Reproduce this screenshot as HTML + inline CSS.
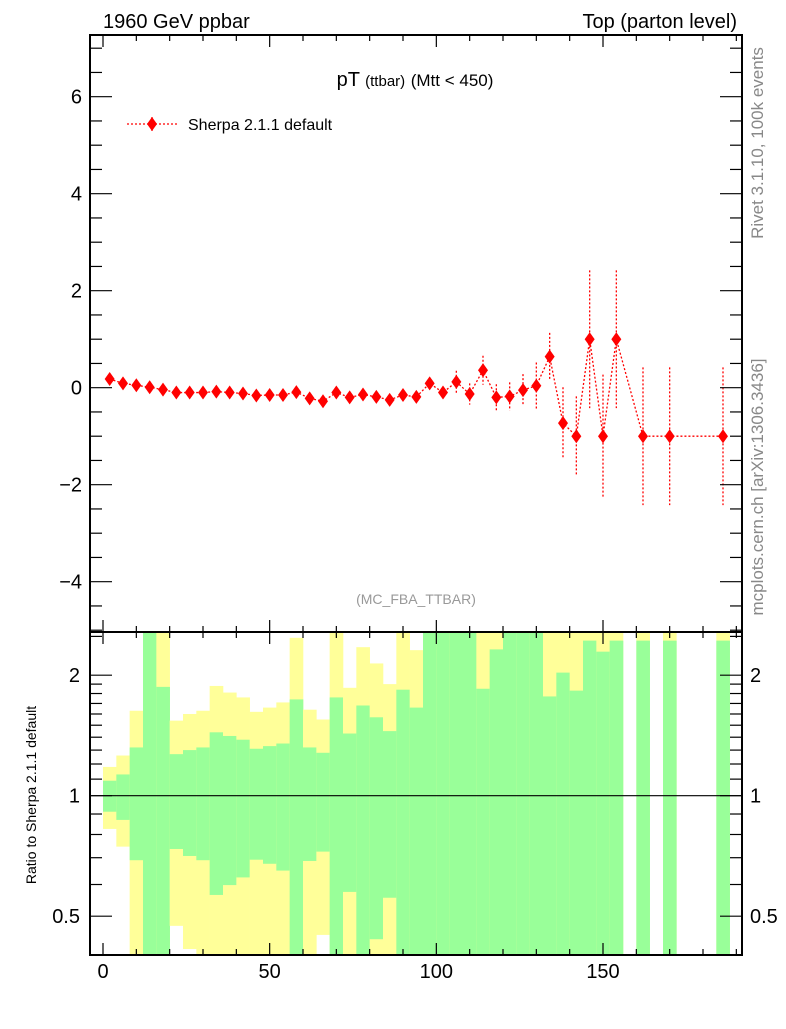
<!DOCTYPE html>
<html><head><meta charset="utf-8"><style>
body{margin:0;background:#fff;}
svg text{font-family:"Liberation Sans",sans-serif;}
</style></head><body>
<svg id="c" width="786" height="1024" xmlns="http://www.w3.org/2000/svg">
<g id="bands"></g>
<g id="main"></g>
<g id="axes"></g>
<text x="103" y="28" font-size="20">1960 GeV ppbar</text>
<text x="737" y="28" font-size="20" text-anchor="end">Top (parton level)</text>
<text x="415" y="86" text-anchor="middle" font-size="20">pT <tspan font-size="15">(ttbar)</tspan> <tspan font-size="17">(Mtt &lt; 450)</tspan></text>
<g>
<line x1="127" y1="124" x2="178" y2="124" stroke="#f00" stroke-width="1.3" stroke-dasharray="2,2"/>
<line x1="152" y1="117" x2="152" y2="131" stroke="#f00" stroke-width="1.3" stroke-dasharray="2,2"/>
<polygon points="152,117 157,124 152,131 147,124" fill="#f00"/>
<text x="188" y="130" font-size="16">Sherpa 2.1.1 default</text>
</g>
<text x="416" y="604" text-anchor="middle" font-size="14" fill="#999">(MC_FBA_TTBAR)</text>
<text transform="translate(763,143) rotate(-90)" text-anchor="middle" font-size="17" fill="#888">Rivet 3.1.10,  100k events</text>
<text transform="translate(763,487) rotate(-90)" text-anchor="middle" font-size="17" fill="#888">mcplots.cern.ch [arXiv:1306.3436]</text>
<text transform="translate(36,795) rotate(-90)" text-anchor="middle" font-size="14">Ratio to Sherpa 2.1.1 default</text>
</svg>
<script>
const binLo=[0,4,8,12,16,20,24,28,32,36,40,44,48,52,56,60,64,68,72,76,80,84,88,92,96,100,104,108,112,116,120,124,128,132,136,140,144,148,152,160,168,184];
const values=[0.18,0.09,0.05,0.01,-0.04,-0.10,-0.10,-0.10,-0.08,-0.10,-0.12,-0.16,-0.15,-0.15,-0.09,-0.22,-0.28,-0.10,-0.20,-0.14,-0.19,-0.25,-0.15,-0.19,0.09,-0.10,0.12,-0.13,0.36,-0.20,-0.18,-0.05,0.04,0.64,-0.73,-1.0,1.0,-1.0,1.0,-1.0,-1.0,-1.0];
const errors=[0.05,0.05,0.05,0.05,0.05,0.05,0.05,0.05,0.05,0.05,0.05,0.06,0.06,0.06,0.06,0.07,0.07,0.07,0.07,0.08,0.08,0.08,0.08,0.09,0.1,0.1,0.23,0.22,0.3,0.27,0.29,0.33,0.48,0.49,0.74,0.82,1.42,1.27,1.42,1.42,1.42,1.42];
const yelUp=[1.18,1.26,1.63,3,3,1.54,1.60,1.63,1.88,1.81,1.76,1.62,1.66,1.71,2.48,1.64,1.55,3,1.86,2.35,2.14,1.90,3,2.31,3,3,3,3,3,3,3,3,3,3,3,3,3,3,3,3,3,3];
const grnUp=[1.09,1.13,1.32,3,1.87,1.27,1.30,1.32,1.44,1.41,1.38,1.31,1.33,1.35,1.74,1.32,1.28,1.76,1.43,1.68,1.57,1.45,1.84,1.66,3,3,3,3,1.85,2.32,3,3,3,1.77,2.03,1.83,2.44,2.29,2.44,2.44,2.44,2.44];
const grnLo=[0.912,0.87,0.69,0.3,0.3,0.736,0.707,0.69,0.565,0.598,0.625,0.692,0.676,0.65,0.3,0.687,0.725,0.3,0.575,0.3,0.438,0.556,0.3,0.3,0.3,0.3,0.3,0.3,0.3,0.3,0.3,0.3,0.3,0.3,0.3,0.3,0.3,0.3,0.3,0.3,0.3,0.3];
const yelLo=[0.826,0.746,0.3,0.3,0.3,0.473,0.414,0.3,0.3,0.3,0.3,0.3,0.3,0.3,0.3,0.3,0.449,0.3,0.3,0.3,0.3,0.3,0.3,0.3,0.3,0.3,0.3,0.3,0.3,0.3,0.3,0.3,0.3,0.3,0.3,0.3,0.3,0.3,0.3,0.3,0.3,0.3];
const binW=4;
const xTicks=[0,50,100,150];
const yTicks=[6,4,2,0,-2,-4];
const rTicks=[2,1,0.5];

const NS="http://www.w3.org/2000/svg";
const L=90,R=742,T=35,MB=632,RB=955;
const X=v=>103+v*(600/180);
const Y=v=>387.7-v*48.5;
const YR=r=>{let y=795.7-Math.log2(r)*120.5;return Math.max(MB,Math.min(RB,y));};
function mk(tag,attrs,parent){const e=document.createElementNS(NS,tag);for(const k in attrs)e.setAttribute(k,attrs[k]);parent.appendChild(e);return e;}
const bands=document.getElementById('bands'),main=document.getElementById('main'),axes=document.getElementById('axes');
binLo.forEach((b,i)=>{
  const x=X(b),w=X(b+binW)-x;
  const ry=mk('rect',{x:x,y:YR(yelUp[i]),width:w+0.3,height:YR(yelLo[i])-YR(yelUp[i]),fill:'#ffff99'},bands);
  
  
  const rg=mk('rect',{x:x,y:YR(grnUp[i]),width:w+0.3,height:YR(grnLo[i])-YR(grnUp[i]),fill:'#99ff99'},bands);
  
  
});
let pts=binLo.map((b,i)=>X(b+binW/2)+','+Y(values[i])).join(' ');
const pl=mk('polyline',{points:pts,fill:'none',stroke:'#f00','stroke-width':1.3,'stroke-dasharray':'2,2'},main);


binLo.forEach((b,i)=>{
  const cx=X(b+binW/2),cy=Y(values[i]);
  const eb=mk('line',{x1:cx,x2:cx,y1:Y(values[i]+errors[i]),y2:Y(values[i]-errors[i]),stroke:'#f00','stroke-width':1.3,'stroke-dasharray':'2,2'},main);
  
  
  const m=mk('polygon',{points:`${cx},${cy-7} ${cx+5},${cy} ${cx},${cy+7} ${cx-5},${cy}`,fill:'#f00'},main);
  
  
});
mk('line',{x1:L,x2:R,y1:YR(1),y2:YR(1),stroke:'#000','stroke-width':1.2},axes);
mk('rect',{x:L,y:T,width:R-L,height:MB-T,fill:'none',stroke:'#000','stroke-width':2},axes);
mk('rect',{x:L,y:MB,width:R-L,height:RB-MB,fill:'none',stroke:'#000','stroke-width':2},axes);
for(let v=0;v<=190;v+=10){
  const x=X(v),len=v%50===0?12:6;
  [[T,1],[MB,-1],[MB,1],[RB,-1]].forEach(([y,d])=>mk('line',{x1:x,x2:x,y1:y,y2:y+d*len,stroke:'#000','stroke-width':1.2},axes));
}
xTicks.forEach(v=>{const t=mk('text',{x:X(v),y:978,'text-anchor':'middle','font-size':20},axes);t.textContent=v;

});
for(let v=-5;v<=7;v+=0.5){
  const y=Y(v);if(y<T||y>MB)continue;const len=Number.isInteger(v/2)?22:12;
  mk('line',{x1:L,x2:L+len,y1:y,y2:y,stroke:'#000','stroke-width':1.2},axes);
  mk('line',{x1:R,x2:R-len,y1:y,y2:y,stroke:'#000','stroke-width':1.2},axes);
}
yTicks.forEach(v=>{const t=mk('text',{x:82,y:Y(v)+7,'text-anchor':'end','font-size':20},axes);t.textContent=v<0?'\u2212'+(-v):v;

});
[0.4,0.5,0.6,0.7,0.8,0.9,1,1.1,1.2,1.3,1.4,1.5,1.6,1.7,1.8,1.9,2,2.5].forEach(v=>{
  const y=YR(v),len=(v===0.5||v===1||v===2)?22:12;
  mk('line',{x1:L,x2:L+len,y1:y,y2:y,stroke:'#000','stroke-width':1.2},axes);
  mk('line',{x1:R,x2:R-len,y1:y,y2:y,stroke:'#000','stroke-width':1.2},axes);
});
rTicks.forEach(v=>{
  const t=mk('text',{x:80,y:YR(v)+7,'text-anchor':'end','font-size':20},axes);t.textContent=v;
  
  
  const t2=mk('text',{x:750,y:YR(v)+7,'font-size':20},axes);t2.textContent=v;
  
  
});
</script>
</body></html>
